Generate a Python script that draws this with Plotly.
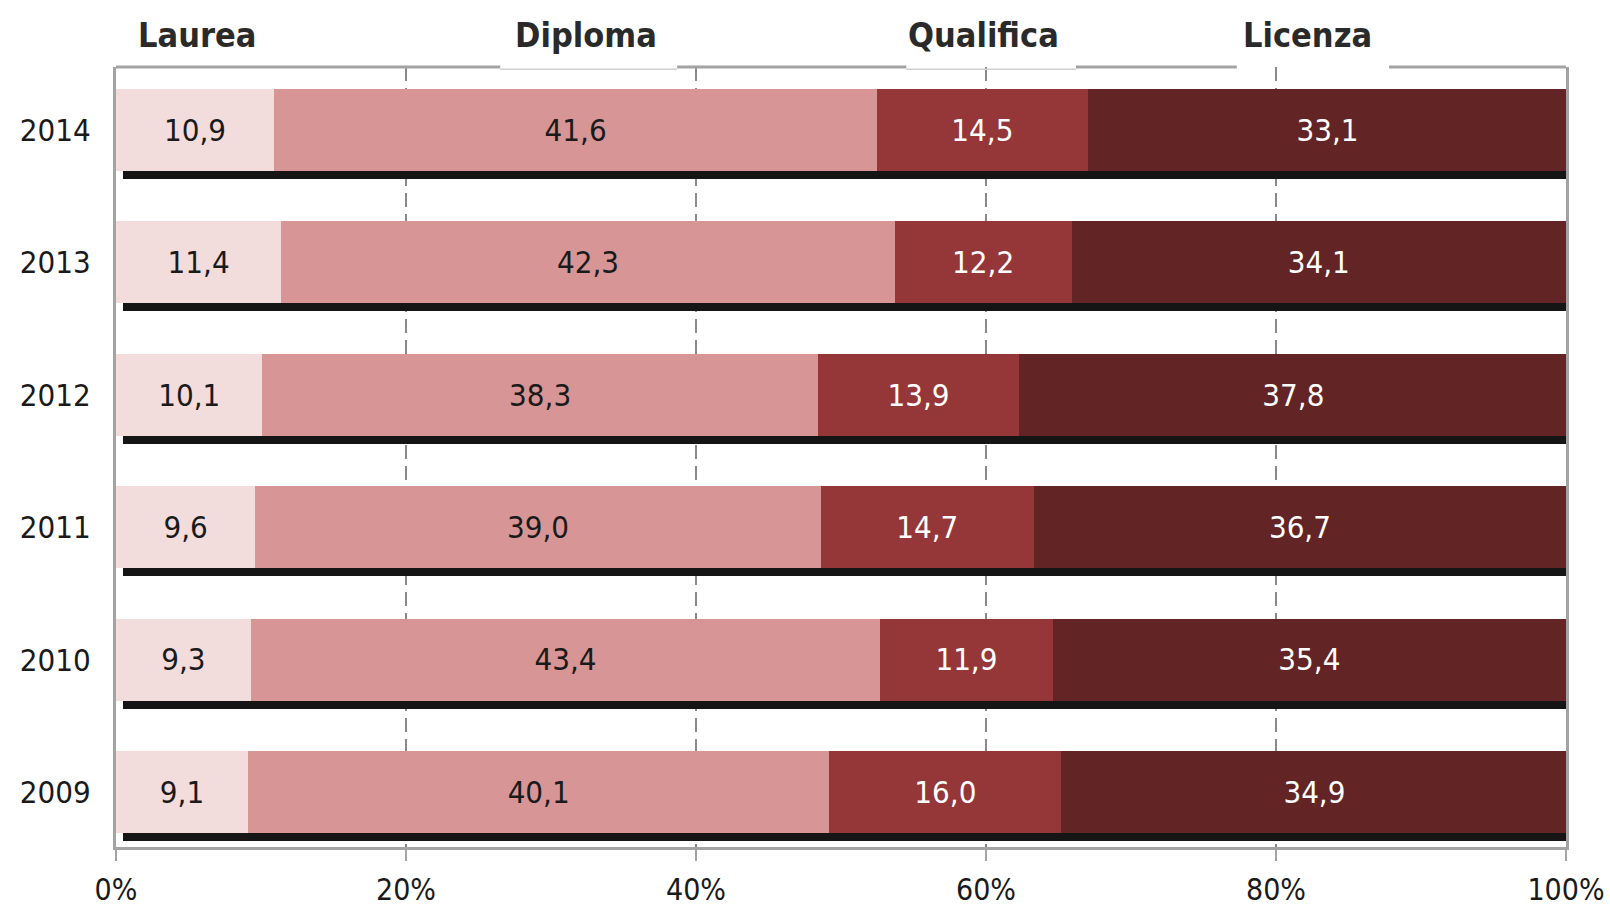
import numpy as np
import plotly.graph_objects as go

years = [2014, 2013, 2012, 2011, 2010, 2009]
categories = ["Laurea", "Diploma", "Qualifica", "Licenza"]
laurea = [10.9, 11.4, 10.1, 9.6, 9.3, 9.1]
diploma = [41.6, 42.3, 38.3, 39.0, 43.4, 40.1]
qualifica = [14.5, 12.2, 13.9, 14.7, 11.9, 16.0]
licenza = [33.1, 34.1, 37.8, 36.7, 35.4, 34.9]
x_ticks = [0, 20, 40, 60, 80, 100]
x_ticklabels = ["0%", "20%", "40%", "60%", "80%", "100%"]

series = [laurea, diploma, qualifica, licenza]
colors = ["#F3DCDC", "#D79595", "#953739", "#622425"]
text_colors = ["#1a1a1a", "#1a1a1a", "#ffffff", "#ffffff"]

FONT = "Liberation Sans Narrow, DejaVu Sans Condensed, Arial Narrow, sans-serif"
TITLE_FONT = "DejaVu Sans Condensed, Liberation Sans Narrow, sans-serif"
GRAY = "#A3A3A3"

W = 0.62
TEXT_DROP = 0.022
fig = go.Figure()

# shadow bars
totals = np.sum(np.array(series), axis=0)
fig.add_trace(go.Bar(
    y=years, x=totals - 0.25, base=[0.5] * len(years), orientation="h",
    width=W, offset=-W / 2 - 0.06,
    marker=dict(color="#151515", line=dict(width=0)),
    hoverinfo="skip", showlegend=False, cliponaxis=False,
))

cum = np.zeros(len(years))
for name, vals, col, tcol in zip(categories, series, colors, text_colors):
    vals = np.array(vals)
    fig.add_trace(go.Bar(
        y=years, x=vals, base=cum.copy(), orientation="h", name=name,
        width=W, offset=-W / 2,
        marker=dict(color=col, line=dict(width=0)),
        showlegend=False,
    ))
    fig.add_trace(go.Scatter(
        y=np.array(years) - TEXT_DROP, x=cum + vals / 2, mode="text",
        text=[f"{v:.1f}".replace(".", ",") for v in vals],
        textposition="middle center",
        textfont=dict(family=FONT, size=31, color=tcol),
        showlegend=False, hoverinfo="skip", cliponaxis=False,
    ))
    cum = cum + vals

# top frame line with gaps under titles
segments = [(0, 26.5), (38.7, 54.5), (66.2, 77.3), (87.8, 100)]
for a, b in segments:
    fig.add_shape(type="line", xref="x", yref="paper", x0=a, x1=b, y0=1, y1=1,
                  line=dict(color=GRAY, width=3), layer="above")
for a, b in [(26.5, 38.7), (54.5, 66.2)]:
    fig.add_shape(type="line", xref="x", yref="paper", x0=a, x1=b, y0=0.997, y1=0.997,
                  line=dict(color="#D0D0D0", width=1.5), layer="above")

title_x = [5.6, 32.4, 59.8, 82.2]
for name, tx in zip(categories, title_x):
    fig.add_annotation(x=tx, xref="x", y=1, yref="paper", yshift=32,
                       text=f"<b>{name}</b>", showarrow=False, yanchor="middle",
                       font=dict(family=TITLE_FONT, size=34, color="#2a2a2a"))

fig.update_layout(
    width=1610, height=906,
    margin=dict(l=116, r=44, t=67, b=59, autoexpand=False),
    paper_bgcolor="white", plot_bgcolor="white",
    barmode="overlay", bargap=0,
    font=dict(family=FONT, color="#1a1a1a"),
)
fig.update_xaxes(
    range=[0, 100], tickvals=x_ticks, ticktext=x_ticklabels,
    showgrid=True, gridcolor="#8a8a8a", gridwidth=2, griddash="14px,7px",
    showline=True, linecolor=GRAY, linewidth=3,
    ticks="outside", ticklen=11, tickwidth=2, tickcolor=GRAY,
    ticklabelstandoff=3,
    tickfont=dict(family=FONT, size=30, color="#1a1a1a"),
    zeroline=False, fixedrange=True, automargin=False,
)
fig.update_yaxes(
    range=[2009 - 0.415, 2014 + 0.476], tickvals=years, ticktext=[str(y) for y in years],
    showgrid=False, zeroline=False,
    showline=True, mirror=True, linecolor=GRAY, linewidth=3,
    ticks="", ticklabelstandoff=16,
    tickfont=dict(family=FONT, size=31, color="#1a1a1a"),
    fixedrange=True, automargin=False,
)

fig.write_html("out.html")
